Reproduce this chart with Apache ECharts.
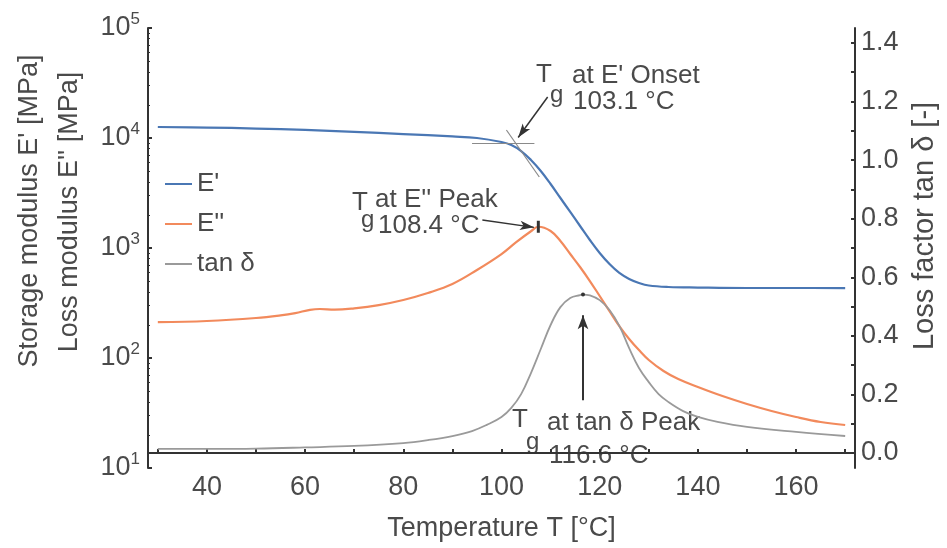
<!DOCTYPE html>
<html>
<head>
<meta charset="utf-8">
<script src="https://cdn.jsdelivr.net/npm/echarts@6/dist/echarts.min.js"></script>
<style>
  html, body { margin: 0; background: #fff; }
  #main { width: 947px; height: 548px; }
</style>
</head>
<body>
<div id="main"></div>
<script>
// E' (storage modulus, MPa)
var ePrimeT = [30, 40, 50, 60, 70, 80, 90, 95, 100, 102, 104, 106, 108, 110, 112, 114, 116, 118, 120, 122, 124, 126, 128, 130, 134, 140, 150, 160, 170];
var ePrimeV = [12590, 12450, 12190, 11830, 11350, 10860, 10330, 10000, 9195, 8640, 7617, 6310, 5012, 3817, 2848, 2125, 1585, 1182, 901, 715, 593, 523, 481, 456, 442, 437, 433, 433, 432];

// E'' (loss modulus, MPa) - orange
var eLossT = [30, 40, 50, 55, 58, 61, 63, 66, 70, 75, 80, 85, 90, 95, 100, 103, 106, 107.5, 110, 112, 114, 116, 118, 120, 122, 124, 126, 128, 130, 133, 136, 140, 145, 150, 155, 160, 165, 170];
var eLossV = [212, 217, 231, 244, 256, 274, 279, 275, 283, 303, 337, 390, 471, 631, 880, 1130, 1420, 1560, 1427, 1158, 882, 672, 501, 366, 267, 195, 149, 118, 95.9, 76.2, 64.4, 54.5, 45.1, 38.2, 33.0, 29.1, 26.2, 24.6];

// tan delta (right axis) - grey
var tanT = [30, 40, 50, 60, 70, 80, 85, 90, 94, 97, 100, 102, 104, 106, 108, 110, 112, 114, 116, 116.6, 118, 120, 122, 124, 126, 128, 130, 132, 134, 137, 140, 144, 150, 160, 170];
var tanV = [0.014, 0.014, 0.015, 0.019, 0.024, 0.034, 0.044, 0.058, 0.075, 0.096, 0.123, 0.154, 0.201, 0.273, 0.355, 0.437, 0.498, 0.529, 0.539, 0.541, 0.538, 0.522, 0.488, 0.434, 0.358, 0.290, 0.242, 0.201, 0.174, 0.143, 0.123, 0.106, 0.089, 0.072, 0.058];

// tick labels
var xLabels = [40, 60, 80, 100, 120, 140, 160];
var xTicks = [30, 40, 50, 60, 70, 80, 90, 100, 110, 120, 130, 140, 150, 160, 170];
var rightLabels = [0, 0.2, 0.4, 0.6, 0.8, 1.0, 1.2, 1.4];
var rightTicks = [0, 0.1, 0.2, 0.3, 0.4, 0.5, 0.6, 0.7, 0.8, 0.9, 1.0, 1.1, 1.2, 1.3, 1.4];

// annotation construction lines (data units)
var onsetFlat = [[94, 9016], [106.7, 9016]];
var onsetSlope = [[101, 11830], [107.7, 4420]];
var onsetArrow = [[109.4, 23600], [103.4, 10100]];
var lossPeakArrow = [[96.1, 1800], [106.6, 1540]];
var tanPeakArrow = [[116.6, 0.18], [116.6, 0.47]];

function pairs(t, v) {
  return t.map(function (x, i) { return [x, v[i]]; });
}

var FONT = 'Liberation Sans, Arial, sans-serif';
var TXT = '#4a4a4a';
var AX = '#333';

var chart = echarts.init(document.getElementById('main'));

function txt(s, x, y, size, extra) {
  var el = {
    type: 'text', x: x, y: y, silent: true,
    style: {
      text: s, font: size + 'px ' + FONT, fill: TXT,
      textAlign: 'left', textVerticalAlign: 'middle', align: 'left', verticalAlign: 'middle'
    }
  };
  if (extra) {
    for (var k in extra) el[k] = extra[k];
  }
  return el;
}
function vtxt(s, x, y, size) {
  var el = txt(s, x, y, size, { rotation: Math.PI / 2 });
  el.style.textAlign = 'center'; el.style.align = 'center';
  return el;
}

chart.setOption({
  animation: false,
  backgroundColor: '#fff',
  grid: { left: 148, right: 92, top: 28, bottom: 80 },
  legend: {
    left: 160, top: 166, orient: 'vertical', itemGap: 14,
    icon: 'rect', itemWidth: 27, itemHeight: 2,
    textStyle: { fontSize: 26, fontFamily: FONT, color: TXT },
    data: ["E'", "E''", 'tan δ']
  },
  xAxis: {
    type: 'value', min: 28, max: 172,
    name: 'Temperature T [°C]', nameLocation: 'middle', nameGap: 47,
    nameTextStyle: { fontSize: 27, fontFamily: FONT, color: TXT },
    axisLine: { lineStyle: { color: AX, width: 2 } },
    axisTick: { inside: true, length: 4, customValues: xTicks, lineStyle: { color: AX, width: 2 } },
    axisLabel: { customValues: xLabels, fontSize: 27, fontFamily: FONT, color: TXT, margin: 6 },
    splitLine: { show: false }
  },
  yAxis: [{
    type: 'log', logBase: 10, min: 10, max: 100000,
    axisLine: { show: true, lineStyle: { color: AX, width: 2 } },
    axisTick: { show: true, inside: true, length: 4, lineStyle: { color: AX, width: 2 } },
    minorTick: { show: true, splitNumber: 9, length: 2, lineStyle: { color: AX } },
    axisLabel: {
      margin: 8, color: TXT,
      formatter: function (v) {
        return '{b|10}{s|' + Math.round(Math.log10(v)) + '}';
      },
      rich: {
        b: { fontSize: 27, fontFamily: FONT, color: TXT, lineHeight: 34 },
        s: { fontSize: 17, fontFamily: FONT, color: TXT, verticalAlign: 'top', lineHeight: 17 }
      }
    },
    splitLine: { show: false }
  }, {
    type: 'value', min: -0.0512, max: 1.451, position: 'right',
    axisLine: { show: true, lineStyle: { color: AX, width: 2 } },
    axisTick: { show: true, inside: true, length: 4, customValues: rightTicks, lineStyle: { color: AX, width: 2 } },
    axisLabel: {
      customValues: rightLabels, margin: 6, fontSize: 27, fontFamily: FONT, color: TXT,
      formatter: function (v) { return v.toFixed(1); }
    },
    splitLine: { show: false }
  }],
  series: [{
    name: "E'", type: 'line', yAxisIndex: 0, smooth: 0.4, symbol: 'none',
    data: pairs(ePrimeT, ePrimeV),
    lineStyle: { color: '#4a77b4', width: 2.2 }, itemStyle: { color: '#4a77b4' },
    markLine: {
      silent: true, animation: false, label: { show: false },
      lineStyle: { color: '#8a8a8a', width: 1.2, type: 'solid' },
      data: [
        [{ coord: onsetFlat[0], symbol: 'none' }, { coord: onsetFlat[1], symbol: 'none' }],
        [{ coord: onsetSlope[0], symbol: 'none' }, { coord: onsetSlope[1], symbol: 'none' }],
        [{ coord: onsetArrow[0], symbol: 'none' },
         { coord: onsetArrow[1], symbol: 'arrow', symbolSize: [7, 14], lineStyle: { color: '#333', width: 1.5 } }]
      ]
    }
  }, {
    name: "E''", type: 'line', yAxisIndex: 0, smooth: 0.4, symbol: 'none',
    data: pairs(eLossT, eLossV),
    lineStyle: { color: '#f28a5c', width: 2.2 }, itemStyle: { color: '#f28a5c' },
    markPoint: {
      silent: true, symbol: 'rect', symbolSize: [3, 12], label: { show: false },
      itemStyle: { color: '#333' }, data: [{ type: 'max' }]
    },
    markLine: {
      silent: true, animation: false, label: { show: false },
      lineStyle: { color: '#333', width: 1.5, type: 'solid' },
      data: [[{ coord: lossPeakArrow[0], symbol: 'none' },
              { coord: lossPeakArrow[1], symbol: 'arrow', symbolSize: [7, 14] }]]
    }
  }, {
    name: 'tan δ', type: 'line', yAxisIndex: 1, smooth: 0.4, symbol: 'none',
    data: pairs(tanT, tanV),
    lineStyle: { color: '#9a9a9a', width: 1.8 }, itemStyle: { color: '#9a9a9a' },
    markPoint: {
      silent: true, symbol: 'circle', symbolSize: 4, label: { show: false },
      itemStyle: { color: '#333' }, data: [{ type: 'max' }]
    },
    markLine: {
      silent: true, animation: false, label: { show: false },
      lineStyle: { color: '#333', width: 2, type: 'solid' },
      data: [[{ coord: tanPeakArrow[0], symbol: 'none' },
              { coord: tanPeakArrow[1], symbol: 'arrow', symbolSize: [8, 14] }]]
    }
  }],
  graphic: [
    vtxt("Storage modulus E' [MPa]", 30, 211, 27),
    vtxt("Loss modulus E'' [MPa]", 70, 212, 27),
    vtxt('Loss factor tan δ [-]', 925, 226, 29),
    txt('T', 536, 75, 26), txt('g', 550, 95, 24),
    txt("at E' Onset", 572, 76, 26), txt('103.1 °C', 573, 102, 26),
    txt('T', 352, 203, 26), txt('g', 361, 220, 24),
    txt("at E'' Peak", 375, 200, 26), txt('108.4 °C', 378, 226, 26),
    txt('T', 512, 420, 26), txt('g', 526, 442, 24),
    txt('at tan δ Peak', 547, 423, 26), txt('116.6 °C', 549, 456, 26)
  ]
});
</script>
</body>
</html>
